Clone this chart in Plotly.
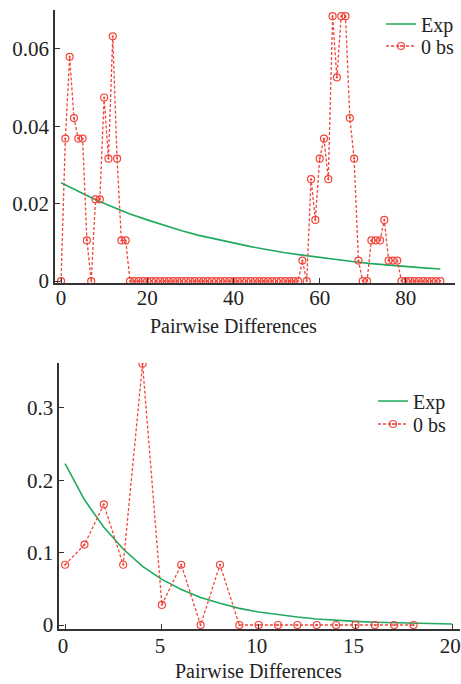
import plotly.graph_objects as go

# ---- Top panel data ----
top_x = list(range(0, 89))
top_obs = ([0.0, 0.0368, 0.0579, 0.0421, 0.0368, 0.0368, 0.0105, 0.0, 0.0211, 0.0211,
            0.0474, 0.0316, 0.0632, 0.0316, 0.0105, 0.0105]
           + [0.0] * 40
           + [0.0053, 0.0, 0.0263, 0.0158, 0.0316, 0.0368, 0.0263, 0.0684, 0.0526, 0.0684,
              0.0684, 0.0421, 0.0316, 0.0053, 0.0, 0.0, 0.0105, 0.0105, 0.0105, 0.0158,
              0.0053, 0.0053, 0.0053]
           + [0.0] * 10)
top_exp_x = [0, 4, 8, 12, 16, 20, 24, 28, 32, 36, 40, 44, 48, 52, 56, 60, 64, 68, 72, 76, 80, 84, 88]
top_exp_y = [0.0254, 0.0231, 0.0210, 0.0191, 0.0173, 0.0158, 0.0143, 0.0130, 0.0118, 0.0108,
             0.0098, 0.0089, 0.0081, 0.0073, 0.0067, 0.0061, 0.0055, 0.0050, 0.0045, 0.0041,
             0.0037, 0.0034, 0.0031]
top_xticks = [0, 20, 40, 60, 80]
top_yticks = [0, 0.02, 0.04, 0.06]
top_yticklabels = ["0", "0.02", "0.04", "0.06"]

# ---- Bottom panel data ----
bot_x = list(range(0, 19))
bot_obs = [0.0833, 0.1111, 0.1667, 0.0833, 0.3611, 0.0278, 0.0833, 0.0, 0.0833, 0.0,
           0.0, 0.0, 0.0, 0.0, 0.0, 0.0, 0.0, 0.0, 0.0]
bot_exp_x = list(range(0, 21))
bot_exp_y = [0.223, 0.173, 0.135, 0.105, 0.081, 0.063, 0.049, 0.038, 0.030, 0.023, 0.018,
             0.014, 0.011, 0.0084, 0.0065, 0.0051, 0.0039, 0.0031, 0.0024, 0.0019, 0.0014]
bot_xticks = [0, 5, 10, 15, 20]
bot_yticks = [0, 0.1, 0.2, 0.3]
bot_yticklabels = ["0", "0.1", "0.2", "0.3"]

series_names = ["Exp", "0 bs"]
x_title = "Pairwise Differences"

GREEN = "#1faa5e"
RED = "#f0463c"
AX = "#333333"
FONT = "Liberation Serif, 'Times New Roman', Times, 'DejaVu Serif', serif"
W, H = 461, 684

fig = go.Figure()

def add_panel(xa, ya, leg_a, leg_b, ex, ey, ox, oy):
    fig.add_trace(go.Scatter(x=ex, y=ey, mode="lines", name=series_names[0],
                             line=dict(color=GREEN, width=1.6),
                             xaxis=xa, yaxis=ya, legend=leg_a))
    fig.add_trace(go.Scatter(x=ox, y=oy, mode="lines+markers", name=series_names[1],
                             line=dict(color=RED, width=1.3, dash="3px,2px"),
                             marker=dict(symbol="circle-open-dot", size=7, color=RED,
                                         line=dict(width=1.2, color=RED)),
                             xaxis=xa, yaxis=ya, legend=leg_b))

add_panel("x", "y", "legend", "legend2", top_exp_x, top_exp_y, top_x, top_obs)
add_panel("x2", "y2", "legend3", "legend4", bot_exp_x, bot_exp_y, bot_x, bot_obs)

axis_common = dict(showgrid=False, zeroline=False, showline=True, linecolor=AX,
                   ticks="inside", ticklen=5, tickcolor=AX, tickwidth=1.3,
                   tickfont=dict(family=FONT, size=21, color="#222"),
                   ticklabeloverflow="allow",
                   automargin=False)

def leg(xpx, ypx):
    return dict(x=xpx / W, y=1 - ypx / H, xanchor="left", yanchor="middle",
                bgcolor="rgba(255,255,255,0)", font=dict(family=FONT, size=20),
                itemwidth=30, borderwidth=0)

fig.update_layout(
    width=W, height=H,
    margin=dict(l=0, r=0, t=0, b=0),
    paper_bgcolor="white", plot_bgcolor="white",
    font=dict(family=FONT, size=21, color="#222"),
    showlegend=True,
    xaxis=dict(domain=[55 / W, 455 / W], range=[-1.4, 91.4], anchor="y",
               tickvals=top_xticks, linewidth=2.2, ticklabelstandoff=-5,
               **axis_common),
    yaxis=dict(domain=[1 - 283 / H, 1 - 10 / H], range=[-0.0005, 0.070], anchor="x",
               tickvals=top_yticks, ticktext=top_yticklabels, linewidth=1.5,
               **axis_common),
    xaxis2=dict(domain=[59.3 / W, 460 / W], range=[-0.3, 20.4], anchor="y2",
                tickvals=bot_xticks, linewidth=2.2, ticklabelstandoff=-3,
                ticklabelshift=-2,
                **axis_common),
    yaxis2=dict(domain=[1 - 629 / H, 1 - 362.7 / H], range=[-0.0055, 0.3625], anchor="x2",
                tickvals=bot_yticks, ticktext=bot_yticklabels, linewidth=1.5,
                **axis_common),
    legend=leg(381, 24),
    legend2=leg(381, 46),
    legend3=leg(373, 401),
    legend4=leg(373, 424),
    annotations=[
        dict(text=x_title, x=233 / W, y=1 - 326 / H, xref="paper", yref="paper",
             xanchor="center", yanchor="middle", showarrow=False,
             font=dict(family=FONT, size=20, color="#222")),
        dict(text=x_title, x=258 / W, y=1 - 671 / H, xref="paper", yref="paper",
             xanchor="center", yanchor="middle", showarrow=False,
             font=dict(family=FONT, size=20, color="#222")),
    ],
)

fig.write_html("out.html", config={"displayModeBar": False},
               post_script="document.body.style.margin='0';")
